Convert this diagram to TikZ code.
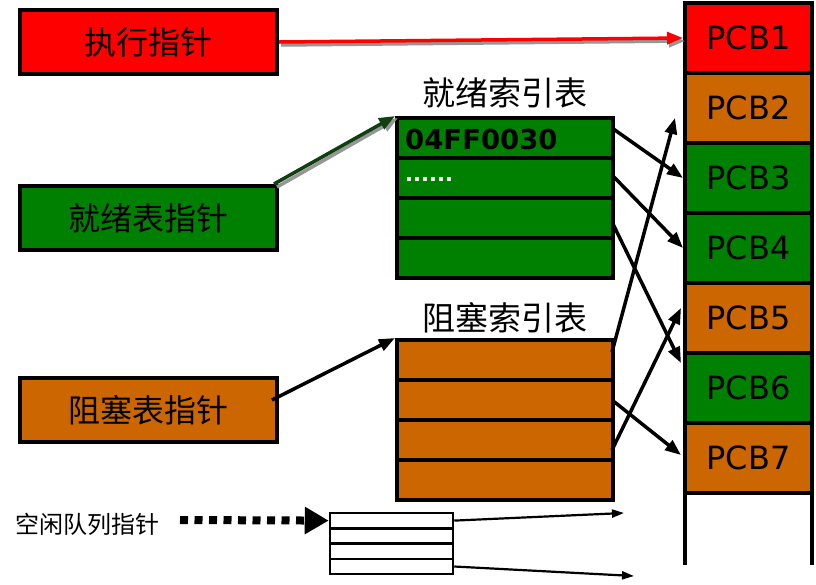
\documentclass[tikz,border=0pt]{standalone}
\usepackage{fontspec}
\setmainfont{DejaVu Sans}
\newfontfamily\cjk{Noto Sans CJK SC}
\usetikzlibrary{arrows.meta,calc}
\definecolor{pred}{RGB}{255,0,0}
\definecolor{pgreen}{RGB}{0,128,0}
\definecolor{porange}{RGB}{204,102,0}
\definecolor{dgreen}{RGB}{16,64,16}
\definecolor{shadowgray}{RGB}{150,150,150}
\begin{document}
\begin{tikzpicture}[x=1pt,y=-1pt,
  ptrbox/.style={draw,line width=4pt,minimum width=257pt,minimum height=64pt,inner sep=0pt,
     font=\cjk\fontsize{32}{34}\selectfont},
  pcbbox/.style={draw,line width=4pt,minimum width=127pt,minimum height=70pt,inner sep=0pt,
     font=\fontsize{32}{34}\selectfont},
  rowbox/.style={draw,line width=4pt,minimum width=216pt,minimum height=40pt,inner sep=0pt},
  freerow/.style={draw,line width=2.5pt,fill=white,minimum width=123pt,minimum height=15.3pt,inner sep=0pt},
  tlabel/.style={font=\cjk\fontsize{33}{34}\selectfont,inner sep=0pt},
  arr/.style={line width=3.5pt,-{Triangle[length=16pt,width=12pt]}},
  thinarr/.style={line width=2.2pt,-{Triangle[length=12pt,width=8pt]}},
]
\useasboundingbox[fill=white] (0,0) rectangle (816,584);

% pointer boxes
\node[ptrbox,fill=pred] (ep) at (148.5,42) {执行指针};
\node[ptrbox,fill=pgreen] (rp) at (148.5,218) {就绪表指针};
\node[ptrbox,fill=porange] (bp) at (148.5,410) {阻塞表指针};

% PCB column
\coordinate (coltl) at (685,3);
\coordinate (coltr) at (812,3);
\coordinate (colbl) at (685,565);
\coordinate (colbr) at (812,565);
\node[pcbbox,fill=pred] (pcb1) at (748.5,38) {PCB1};
\node[pcbbox,fill=porange] (pcb2) at (748.5,108) {PCB2};
\node[pcbbox,fill=pgreen] (pcb3) at (748.5,178) {PCB3};
\node[pcbbox,fill=pgreen] (pcb4) at (748.5,248) {PCB4};
\node[pcbbox,fill=porange] (pcb5) at (748.5,318) {PCB5};
\node[pcbbox,fill=pgreen] (pcb6) at (748.5,388) {PCB6};
\node[pcbbox,fill=porange] (pcb7) at (748.5,458) {PCB7};
\draw[line width=4pt] (coltl) -- (colbl) (coltr) -- (colbr);

% ready index table
\node[tlabel] (rlabel) at (505,93) {就绪索引表};
\node[rowbox,fill=pgreen] (r1) at (505,138) {};
\node[rowbox,fill=pgreen] (r2) at (505,178) {};
\node[rowbox,fill=pgreen] (r3) at (505,218) {};
\node[rowbox,fill=pgreen] (r4) at (505,258) {};
\node[anchor=west,inner sep=0pt,font=\bfseries\fontsize{27.5}{28}\selectfont] (addr) at (405,139) {04FF0030};
\node[anchor=west,inner sep=0pt,text=white,font=\bfseries\fontsize{21}{21}\selectfont] (dots) at (405,180) {......};

% blocked index table
\node[tlabel] (blabel) at (505,318) {阻塞索引表};
\node[rowbox,fill=porange] (b1) at (505,360) {};
\node[rowbox,fill=porange] (b2) at (505,400) {};
\node[rowbox,fill=porange] (b3) at (505,440) {};
\node[rowbox,fill=porange] (b4) at (505,480) {};

% free queue
\node[inner sep=0pt,font=\cjk\fontsize{24}{24}\selectfont] (flabel) at (88,524) {空闲队列指针};
\node[freerow] (f1) at (391.5,520.6) {};
\node[freerow] (f2) at (391.5,535.9) {};
\node[freerow] (f3) at (391.5,551.2) {};
\node[freerow] (f4) at (391.5,566.5) {};
\coordinate (fs) at (180,520);
\draw[line width=8pt,dash pattern=on 8pt off 6.5pt,-{Triangle[length=24pt,width=26pt]}] (fs) -- (f1.west);
\coordinate (fe1) at (624,513);
\coordinate (fe2) at (634,576);
\draw[thinarr] (f1.east) -- (fe1);
\draw[thinarr] (f4.east) -- (fe2);

% pointer arrows
\draw[line width=3.5pt,shadowgray,-{Triangle[length=16pt,width=12pt]}] ([xshift=2pt,yshift=-3pt]ep.east) -- ([xshift=2pt,yshift=-3pt]pcb1.west);
\draw[line width=3.5pt,pred,-{Triangle[length=16pt,width=12pt]}] (ep.east) -- (pcb1.west);
\draw[line width=3.5pt,shadowgray,-{Triangle[length=16pt,width=12pt]}] ([xshift=-2pt,yshift=-3pt]rp.north east) -- ([xshift=3pt,yshift=-2pt]r1.north west);
\draw[line width=3.5pt,dgreen,-{Triangle[length=16pt,width=12pt]}] ([xshift=-5pt]rp.north east) -- (r1.north west);
\draw[arr] ([xshift=-7pt,yshift=10pt]bp.east) -- (b1.north west);

% ready -> PCB
\draw[arr] ([xshift=-3pt,yshift=10pt]r1.east) -- (pcb3.west);
\draw[arr] ([xshift=-3pt,yshift=3pt]r2.east) -- (pcb4.west);
\draw[arr] ([xshift=-3pt,yshift=-4pt]r3.east) -- ([xshift=-2pt,yshift=25pt]pcb6.west);

% blocked -> PCB
\draw[arr] ([xshift=-3pt,yshift=8pt]b1.east) -- ([xshift=-8pt,yshift=-10pt]pcb2.west);
\draw[arr] ([xshift=-3pt]b2.east) -- ([xshift=-2pt,yshift=3pt]pcb7.west);
\draw[arr] ([xshift=-3pt,yshift=-10pt]b3.east) -- ([xshift=-2pt,yshift=10pt]pcb5.west);
\end{tikzpicture}
\end{document}
